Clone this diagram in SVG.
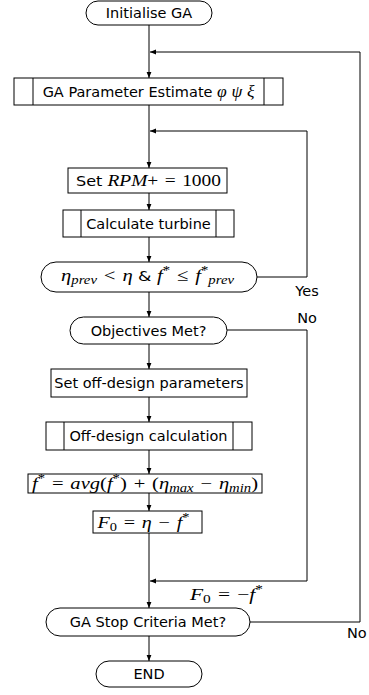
<svg xmlns="http://www.w3.org/2000/svg" width="369" height="695" viewBox="0 0 369 695">
<style>
.box{fill:#fff;stroke:#000;stroke-width:1}
.ln{fill:none;stroke:#000;stroke-width:1}
.t{font-family:"DejaVu Sans",sans-serif;font-size:14.5px;fill:#000}
.m{font-family:"Liberation Serif","DejaVu Serif",serif;font-size:17.5px;fill:#000}
.i{font-style:italic}
.s{font-size:12.5px;font-style:italic}
.u{font-size:12.5px}
</style>
<defs>
<marker id="ar" markerUnits="userSpaceOnUse" markerWidth="8" markerHeight="8" viewBox="0 0 8 8" refX="7" refY="4" orient="auto">
<path d="M1,1.6 L7,4 L1,6.4 Z" fill="#000"/>
</marker>
</defs>
<g id="connectors">
<line class="ln" x1="149" y1="25" x2="149" y2="78" marker-end="url(#ar)"/>
<line class="ln" x1="149" y1="105" x2="149" y2="168" marker-end="url(#ar)"/>
<line class="ln" x1="149" y1="193" x2="149" y2="210" marker-end="url(#ar)"/>
<line class="ln" x1="149" y1="237" x2="149" y2="262" marker-end="url(#ar)"/>
<line class="ln" x1="149" y1="292" x2="149" y2="317" marker-end="url(#ar)"/>
<line class="ln" x1="149" y1="344" x2="149" y2="369" marker-end="url(#ar)"/>
<line class="ln" x1="149" y1="397" x2="149" y2="422" marker-end="url(#ar)"/>
<line class="ln" x1="149" y1="450" x2="149" y2="474" marker-end="url(#ar)"/>
<line class="ln" x1="149" y1="493" x2="149" y2="511" marker-end="url(#ar)"/>
<line class="ln" x1="149" y1="533" x2="149" y2="608" marker-end="url(#ar)"/>
<line class="ln" x1="149" y1="636" x2="149" y2="661" marker-end="url(#ar)"/>
<path class="ln" d="M250,622 H360 V52 H150" marker-end="url(#ar)"/>
<path class="ln" d="M257,277 H307 V131 H150" marker-end="url(#ar)"/>
<path class="ln" d="M227,330 H307 V581 H150" marker-end="url(#ar)"/>
<text class="t" x="307" y="296" text-anchor="middle">Yes</text>
<text class="t" x="307" y="323" text-anchor="middle">No</text>
<text class="t" x="347" y="638">No</text>
<text class="m" x="226.5" y="600" text-anchor="middle" textLength="73" lengthAdjust="spacingAndGlyphs"><tspan class="i">F</tspan><tspan class="u" dy="3">0</tspan><tspan dy="-3">&#8196;=&#8196;−</tspan><tspan class="i">f</tspan><tspan class="u" dy="-7">*</tspan></text>
</g>
<g id="init">
<rect class="box" x="86" y="1" width="126" height="24" rx="12" ry="12"/>
<text class="t" x="149" y="18" text-anchor="middle">Initialise GA</text>
</g>
<g id="ga-param">
<rect class="box" x="14" y="78" width="269" height="27"/>
<line class="ln" x1="33" y1="78" x2="33" y2="105"/>
<line class="ln" x1="264" y1="78" x2="264" y2="105"/>
<text class="t" x="148.5" y="97" text-anchor="middle">GA Parameter Estimate <tspan class="m i">φ</tspan> <tspan class="m i">ψ</tspan> <tspan class="m i">ξ</tspan></text>
</g>
<g id="set-rpm">
<rect class="box" x="68" y="168" width="159" height="25"/>
<text class="t" x="148.5" y="186" text-anchor="middle" textLength="145" lengthAdjust="spacingAndGlyphs">Set <tspan class="m i">RPM</tspan><tspan class="m">+&#8196;=&#8196;1000</tspan></text>
</g>
<g id="calc-turbine">
<rect class="box" x="63" y="210" width="171" height="27"/>
<line class="ln" x1="81" y1="210" x2="81" y2="237"/>
<line class="ln" x1="216" y1="210" x2="216" y2="237"/>
<text class="t" x="148.5" y="229" text-anchor="middle">Calculate turbine</text>
</g>
<g id="condition">
<rect class="box" x="41" y="262" width="216" height="30" rx="15" ry="15"/>
<text class="m" x="147.5" y="281" text-anchor="middle" textLength="173" lengthAdjust="spacingAndGlyphs"><tspan class="i">η</tspan><tspan class="s" dy="3">prev</tspan><tspan dy="-3">&#8196;&lt;&#8196;</tspan><tspan class="i">η</tspan><tspan class="t"> &amp; </tspan><tspan class="i">f</tspan><tspan class="u" dy="-7">*</tspan><tspan dy="7">&#8196;≤&#8196;</tspan><tspan class="i">f</tspan><tspan class="u" dy="-7">*</tspan><tspan class="s" dy="10">prev</tspan></text>
</g>
<g id="objectives">
<rect class="box" x="70" y="317" width="157" height="27" rx="13.5" ry="13.5"/>
<text class="t" x="148.5" y="335.5" text-anchor="middle">Objectives Met?</text>
</g>
<g id="set-offdesign">
<rect class="box" x="51" y="369" width="196" height="28"/>
<text class="t" x="149" y="388" text-anchor="middle">Set off-design parameters</text>
</g>
<g id="offdesign-calc">
<rect class="box" x="46" y="422" width="206" height="28"/>
<line class="ln" x1="64" y1="422" x2="64" y2="450"/>
<line class="ln" x1="233" y1="422" x2="233" y2="450"/>
<text class="t" x="148.5" y="441" text-anchor="middle">Off-design calculation</text>
</g>
<g id="fstar">
<rect class="box" x="28" y="474" width="234" height="19"/>
<text class="m" x="145" y="488.5" text-anchor="middle" textLength="226" lengthAdjust="spacingAndGlyphs"><tspan class="i">f</tspan><tspan class="u" dy="-7">*</tspan><tspan dy="7">&#8196;=&#8196;</tspan><tspan class="i">avg</tspan>(<tspan class="i">f</tspan><tspan class="u" dy="-7">*</tspan><tspan dy="7">)&#8196;+&#8196;(</tspan><tspan class="i">η</tspan><tspan class="s" dy="3">max</tspan><tspan dy="-3">&#8196;−&#8196;</tspan><tspan class="i">η</tspan><tspan class="s" dy="3">min</tspan><tspan dy="-3">)</tspan></text>
</g>
<g id="f0">
<rect class="box" x="93" y="511" width="109" height="22"/>
<text class="m" x="143.5" y="527.5" text-anchor="middle" textLength="92" lengthAdjust="spacingAndGlyphs"><tspan class="i">F</tspan><tspan class="u" dy="3">0</tspan><tspan dy="-3">&#8196;=&#8196;</tspan><tspan class="i">η</tspan>&#8196;−&#8196;<tspan class="i">f</tspan><tspan class="u" dy="-7">*</tspan></text>
</g>
<g id="ga-stop">
<rect class="box" x="46" y="608" width="204" height="28" rx="14" ry="14"/>
<text class="t" x="148" y="627" text-anchor="middle">GA Stop Criteria Met?</text>
</g>
<g id="end">
<rect class="box" x="96" y="661" width="106" height="26" rx="13" ry="13"/>
<text class="t" x="149" y="679" text-anchor="middle">END</text>
</g>
</svg>
